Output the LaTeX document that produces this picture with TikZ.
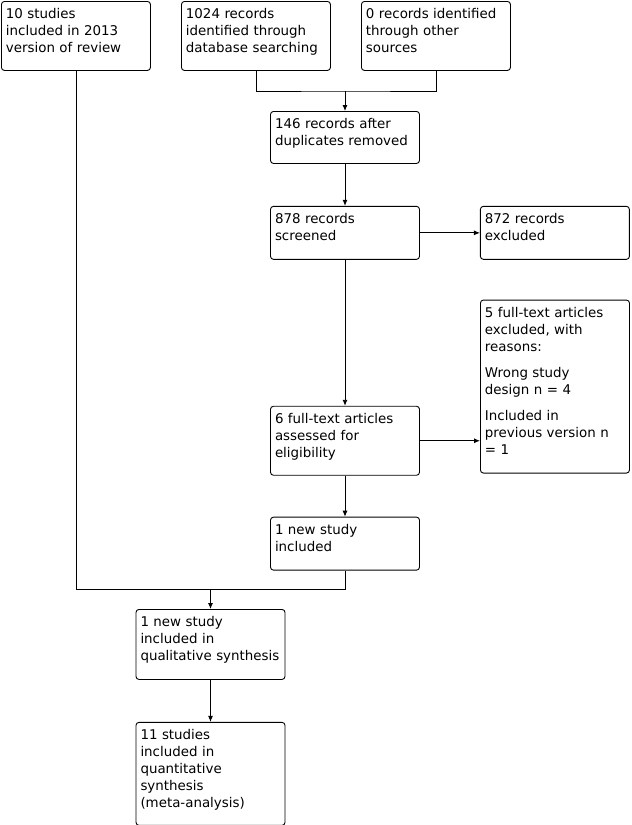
\documentclass[tikz,border=0pt]{standalone}
\usepackage{fontspec}
\setmainfont{DejaVu Sans}
\usetikzlibrary{positioning,arrows.meta}
\tikzset{
mybox/.style={
  draw,
  rounded corners=3pt,
  line width=0.9pt,
  font=\fontsize{13.4}{17}\selectfont,
  align=left,
  text width=140pt,
  inner xsep=4.5pt,
  inner ysep=5pt,
  text height=12pt,
  text depth=#1
  },
myline/.style={
  line width=0.9pt
  }
}

\begin{document}
\begin{tikzpicture}[x=1pt,y=1pt,>={Latex[length=6pt,width=5pt]}]

\useasboundingbox (0,0) rectangle (632,-825);

\node[mybox=47pt,anchor=north west] at (1,-1) (box1) {10 studies\\included in 2013\\version of review};
\node[mybox=47pt,anchor=north west] at (181,-1) (box2) {1024 records\\identified through\\database searching};
\node[mybox=47pt,anchor=north west] at (361,-1) (box3) {0 records identified\\through other\\sources};

\node[mybox=30pt,anchor=north] at (345,-111) (box4) {146 records after\\duplicates removed};
\node[mybox=31pt,below=42pt of box4] (box5) {878 records\\screened};
\node[mybox=31pt,right=60pt of box5] (box6) {872 records\\excluded};
\node[mybox=47pt,below=146pt of box5] (box8) {6 full-text articles\\assessed for\\eligibility};
\node[mybox=151pt,anchor=south west] at (480,-473.5) (box7) {5 full-text articles\\excluded, with\\reasons:\\[9pt]Wrong study\\design n = 4\\[9pt]Included in\\previous version n\\= 1};
\node[mybox=31pt,below=41pt of box8] (box9) {1 new study\\included};

\node[mybox=48pt,anchor=north] at (210.5,-609) (box10) {1 new study\\included in\\qualitative synthesis};
\node[mybox=81pt,below=42pt of box10] (box11) {11 studies\\included in\\quantitative\\synthesis\\(meta-analysis)};

\coordinate (merge top) at (box4.north |- 0,-91);
\coordinate (merge bottom) at (box10.north |- 0,-589.5);

\draw[myline] (box2.south) |- (merge top) -| (box3.south);
\draw[myline,->] (merge top) -- (box4.north);
\draw[myline,->] (box4) -- (box5);
\draw[myline,->] (box5) -- (box6);
\draw[myline,->] (box5) -- (box8);
\draw[myline,->] (box8.east) -- (box8.east -| box7.west);
\draw[myline,->] (box8) -- (box9);

\draw[myline] (box1.south) |- (merge bottom) -| (box9.south);
\draw[myline,->] (merge bottom) -- (box10.north);
\draw[myline,->] (box10) -- (box11);

\end{tikzpicture}
\end{document}
